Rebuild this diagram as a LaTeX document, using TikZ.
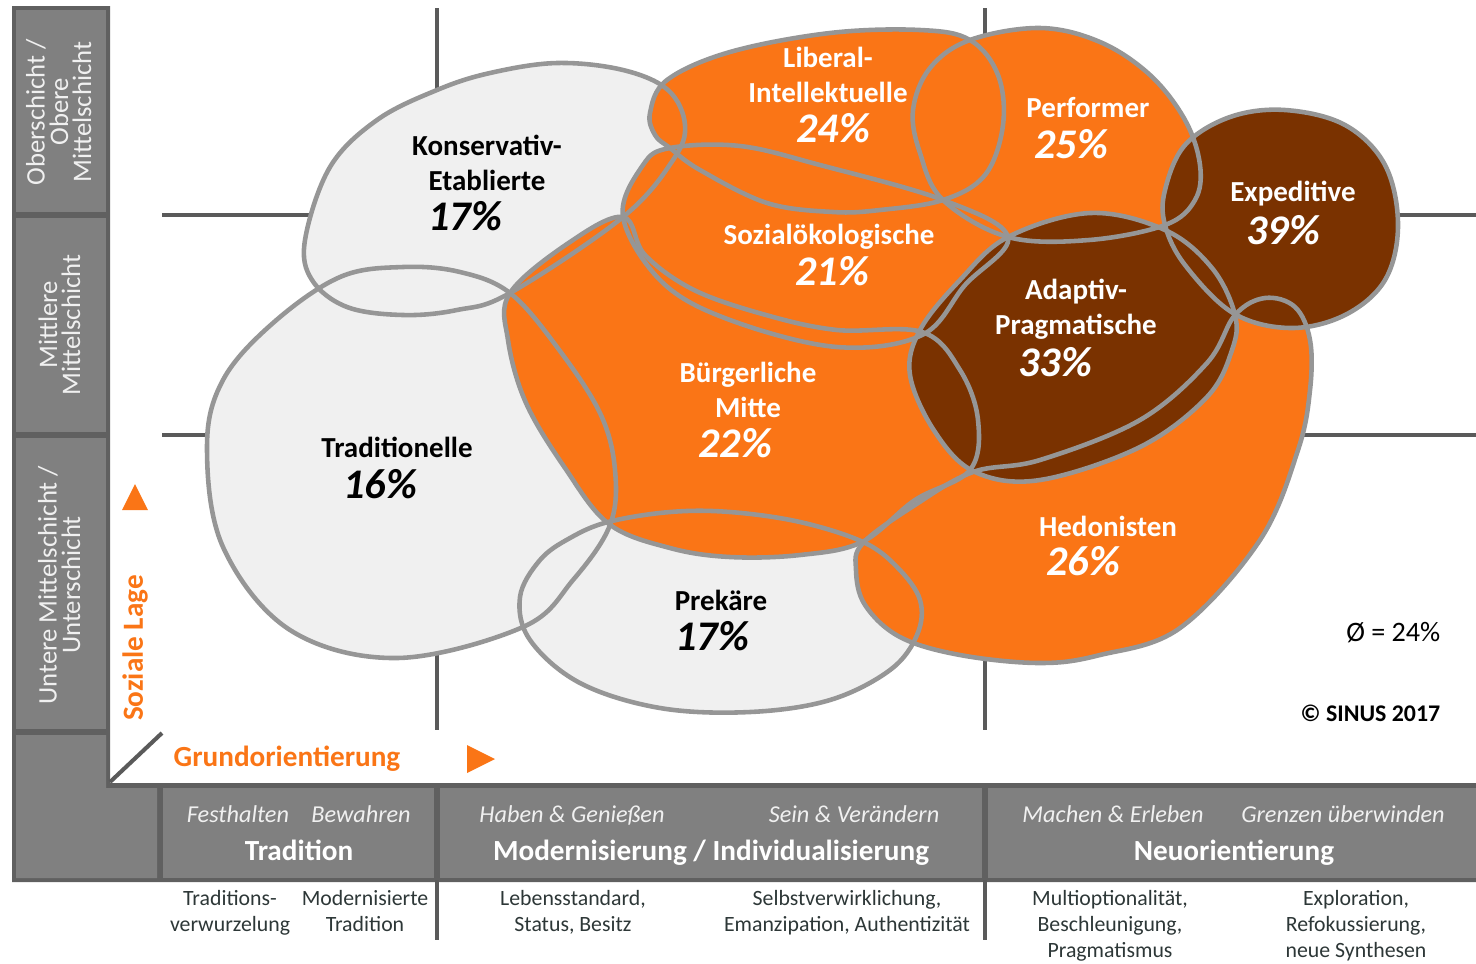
\documentclass[tikz,border=0pt]{standalone}
\usepackage{fontspec}
\setmainfont{Carlito}
\definecolor{sinusorange}{RGB}{250,117,22}
\definecolor{sinusbrown}{RGB}{122,50,0}
\definecolor{blobgray}{RGB}{240,240,240}
\definecolor{rimgray}{RGB}{150,150,150}
\definecolor{framedark}{RGB}{96,96,96}
\definecolor{framelight}{RGB}{128,128,128}
\definecolor{gridgray}{RGB}{90,90,90}
\definecolor{desctext}{RGB}{45,55,55}

\newcommand\blobKons{plot[smooth cycle, tension=0.6] coordinates {(305,240) (330,167) (377,120) (437,90) (490,73) (557,63) (623,70) (668,90) (685,125) (673,160) (623,217) (510,293) (457,310) (403,315) (347,307) (312,280)}}
\newcommand\blobTrad{plot[smooth cycle, tension=0.6] coordinates {(510,293) (460,272) (403,267) (340,277) (273,323) (223,380) (207,447) (223,547) (290,630) (397,658) (523,627) (573,580) (610,525) (615,470) (600,413) (557,347)}}
\newcommand\blobPrek{plot[smooth cycle, tension=0.6] coordinates {(608,522) (670,512) (730,512) (800,522) (863,542) (897,567) (920,600) (917,635) (890,670) (830,700) (750,712) (660,708) (580,683) (530,640) (520,597) (540,560) (570,538)}}
\newcommand\blobBuerg{plot[smooth cycle, tension=0.6] coordinates {(510,293) (508,340) (526,403) (565,468) (609,524) (670,548) (730,557) (800,555) (862,542) (915,500) (970,470) (978,420) (960,370) (922,332) (837,330) (766,315) (694,290) (645,255) (623,217) (570,242)}}
\newcommand\blobSozial{plot[smooth cycle, tension=0.6] coordinates {(623,217) (643,165) (670,148) (740,146) (820,165) (943,200) (1008,237) (965,285) (922,335) (837,347) (730,320) (662,282)}}
\newcommand\blobLiberal{plot[smooth cycle, tension=0.6] coordinates {(650,113) (667,80) (730,52) (830,33) (920,30) (970,40) (998,75) (1003,125) (985,175) (943,200) (880,210) (833,212) (767,203) (700,170) (670,148) (655,135)}}
\newcommand\blobPerf{plot[smooth cycle, tension=0.6] coordinates {(970,40) (1040,28) (1100,42) (1150,75) (1185,120) (1200,165) (1195,200) (1165,225) (1089,240) (1008,237) (943,200) (920,153) (913,110) (930,68)}}
\newcommand\blobAdapt{plot[smooth cycle, tension=0.6] coordinates {(1008,237) (1090,213) (1165,230) (1212,268) (1235,315) (1232,350) (1207,397) (1140,447) (1040,480) (975,472) (935,432) (910,375) (920,330) (960,280)}}
\newcommand\blobExped{plot[smooth cycle, tension=0.6] coordinates {(1165,190) (1185,145) (1230,117) (1285,110) (1345,125) (1385,165) (1398,225) (1385,280) (1345,315) (1290,328) (1233,313) (1185,265) (1165,225)}}
\newcommand\blobHedon{plot[smooth cycle, tension=0.6] coordinates {(863,543) (915,505) (973,472) (1040,460) (1140,420) (1207,363) (1235,315) (1265,298) (1295,307) (1310,340) (1310,390) (1298,450) (1260,540) (1180,628) (1100,655) (1040,663) (960,655) (900,637) (865,605) (856,570)}}

\tikzset{
  rim/.style={draw=rimgray, line width=1.3pt},
  gridline/.style={draw=gridgray, line width=1.15pt},
  milieu/.style={font=\fontsize{8.25}{9.9}\selectfont\bfseries, align=center, inner sep=0pt},
  pct/.style={font=\fontsize{12}{14}\selectfont\bfseries\itshape, inner sep=0pt},
  sidelabel/.style={rotate=90, text=white!94!black, inner sep=0pt, font=\fontsize{7.6}{9}\selectfont},
  axislabel/.style={text=sinusorange, inner sep=0pt, font=\fontsize{8.3}{10}\selectfont\bfseries},
  motto/.style={text=white!94!black, inner sep=0pt, anchor=base, font=\fontsize{6.9}{8}\selectfont\itshape},
  epoch/.style={text=white, inner sep=0pt, anchor=base, font=\fontsize{8.3}{10}\selectfont\bfseries},
  desc/.style={text=desctext, align=center, inner sep=0pt, font=\fontsize{6.2}{7.4}\selectfont},
}

\begin{document}
\begin{tikzpicture}[x=0.01cm, y=-0.01cm]
    \useasboundingbox (0,0) rectangle (1476,963);
    % frame
    \fill[framedark] (12,6) -- (110,6) -- (110,783) -- (1476,783) -- (1476,882) -- (12,882) -- cycle;
    \fill[framelight] (16,10) rectangle (106,212);
    \fill[framelight] (16,218) rectangle (106,432);
    \fill[framelight] (16,438) rectangle (106,729);
    \fill[framelight] (16,735) -- (106,735) -- (106,788) -- (157,788) -- (157,878) -- (16,878) -- cycle;
    \fill[framelight] (163,788) rectangle (434,878);
    \fill[framelight] (440,788) rectangle (982,878);
    \fill[framelight] (988,788) rectangle (1476,878);
    % grid
    \draw[gridline] (437,8) -- (437,730);
    \draw[gridline] (985,8) -- (985,730);
    \draw[gridline] (162,215) -- (1476,215);
    \draw[gridline] (162,435) -- (1476,435);
    \draw[gridline] (110,782) -- (162,733);
    \draw[gridgray, line width=0.9pt] (437,880) -- (437,940);
    \draw[gridgray, line width=0.9pt] (985,880) -- (985,940);
    % milieus
    \fill[blobgray] \blobKons;
    \fill[blobgray] \blobTrad;
    \fill[blobgray] \blobPrek;
    \fill[sinusorange] \blobBuerg;
    \fill[sinusorange] \blobSozial;
    \fill[sinusorange] \blobLiberal;
    \fill[sinusorange] \blobPerf;
    \fill[sinusorange] \blobHedon;
    \fill[sinusbrown] \blobAdapt;
    \fill[sinusbrown] \blobExped;
    \draw[rim] \blobKons;
    \draw[rim] \blobTrad;
    \draw[rim] \blobPrek;
    \draw[rim] \blobBuerg;
    \draw[rim] \blobSozial;
    \draw[rim] \blobLiberal;
    \draw[rim] \blobPerf;
    \draw[rim] \blobHedon;
    \draw[rim] \blobAdapt;
    \draw[rim] \blobExped;
    % names and shares
    \node[milieu] (kons) at (487,163) {Konservativ-\\Etablierte};
    \node[pct] (konsp) at (465,216) {17\%};
    \node[milieu, text=white] (lib) at (828,75) {Liberal-\\Intellektuelle};
    \node[pct, text=white] (libp) at (833,128) {24\%};
    \node[milieu, text=white] (perf) at (1088,108) {Performer};
    \node[pct, text=white] (perfp) at (1071,144) {25\%};
    \node[milieu, text=white] (exped) at (1293,194) {Expeditive};
    \node[pct, text=white] (expedp) at (1283,230) {39\%};
    \node[milieu, text=white] (sozial) at (829,237) {Sozialökologische};
    \node[pct, text=white] (sozialp) at (832,271) {21\%};
    \node[milieu, text=white] (adapt) at (1076,309) {Adaptiv-\\Pragmatische};
    \node[pct, text=white] (adaptp) at (1055,362) {33\%};
    \node[milieu, text=white] (buerg) at (748,390) {Bürgerliche\\Mitte};
    \node[pct, text=white] (buergp) at (735,443) {22\%};
    \node[milieu] (trad) at (397,447) {Traditionelle};
    \node[pct] (tradp) at (380,484) {16\%};
    \node[milieu, text=white] (hedon) at (1108,526) {Hedonisten};
    \node[pct, text=white] (hedonp) at (1083,561) {26\%};
    \node[milieu] (prek) at (721,600) {Prekäre};
    \node[pct] (prekp) at (712,636) {17\%};
    \node[anchor=east, inner sep=0pt, font=\fontsize{8}{10}\selectfont] (mean) at (1441,633) {Ø = 24\%};
    \node[anchor=east, inner sep=0pt, font=\fontsize{6.8}{8}\selectfont\bfseries] (copy) at (1441,713) {© SINUS 2017};
    % social strata
    \node[sidelabel] (ober1) at (36,112) {Oberschicht /};
    \node[sidelabel] (ober2) at (59,112) {Obere};
    \node[sidelabel] (ober3) at (82,112) {Mittelschicht};
    \node[sidelabel] (mitte1) at (48,325) {Mittlere};
    \node[sidelabel] (mitte2) at (71,325) {Mittelschicht};
    \node[sidelabel] (unter1) at (48,585) {Untere Mittelschicht /};
    \node[sidelabel] (unter2) at (71,585) {Unterschicht};
    % axes
    \fill[sinusorange] (122,510) -- (148,510) -- (135,484) -- cycle;
    \fill[sinusorange] (467,745) -- (467,773) -- (495,759) -- cycle;
    \node[axislabel, rotate=90] (lage) at (135,648) {Soziale Lage};
    \node[axislabel] (grund) at (287,759) {Grundorientierung};
    % basic orientations
    \node[motto] (festh) at (238,822) {Festhalten};
    \node[motto] (bewahr) at (361,822) {Bewahren};
    \node[motto] (haben) at (572,822) {Haben \& Genießen};
    \node[motto] (sein) at (854,822) {Sein \& Verändern};
    \node[motto] (machen) at (1113,822) {Machen \& Erleben};
    \node[motto] (grenz) at (1343,822) {Grenzen überwinden};
    \node[epoch] (tradition) at (299,860) {Tradition};
    \node[epoch] (modern) at (711,860) {Modernisierung / Individualisierung};
    \node[epoch] (neu) at (1234,860) {Neuorientierung};
    \node[desc, anchor=north] (d1) at (230,890) {Traditions-\\verwurzelung};
    \node[desc, anchor=north] (d2) at (365,890) {Modernisierte\\Tradition};
    \node[desc, anchor=north] (d3) at (573,890) {Lebensstandard,\\Status, Besitz};
    \node[desc, anchor=north] (d4) at (847,890) {Selbstverwirklichung,\\Emanzipation, Authentizität};
    \node[desc, anchor=north] (d5) at (1110,890) {Multioptionalität,\\Beschleunigung,\\Pragmatismus};
    \node[desc, anchor=north] (d6) at (1356,890) {Exploration,\\Refokussierung,\\neue Synthesen};
\end{tikzpicture}
\end{document}
